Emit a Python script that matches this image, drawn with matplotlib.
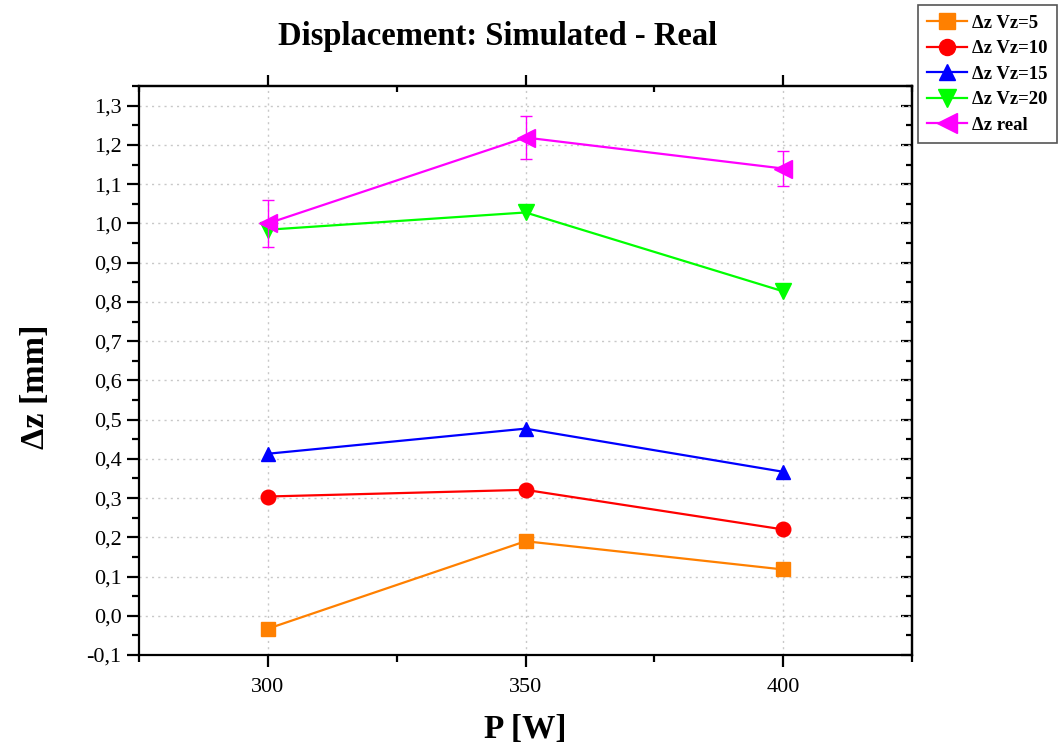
import matplotlib
matplotlib.use("Agg")
import matplotlib.pyplot as plt
from matplotlib.ticker import MultipleLocator, FuncFormatter, NullFormatter
import numpy as np

# data
power = [300, 350, 400]
dz_vz5 = [-0.033, 0.190, 0.118]
dz_vz10 = [0.304, 0.321, 0.220]
dz_vz15 = [0.413, 0.477, 0.367]
dz_vz20 = [0.984, 1.028, 0.827]
dz_real = [1.000, 1.219, 1.140]
dz_real_err = [0.060, 0.055, 0.045]

series_labels = ["\u0394z Vz=5", "\u0394z Vz=10", "\u0394z Vz=15", "\u0394z Vz=20", "\u0394z real"]

plt.rcParams['font.family'] = ['Liberation Serif', 'DejaVu Serif']

fig = plt.figure(figsize=(10.58, 7.49), dpi=100)
ax = fig.add_axes([0.1314, 0.1255, 0.7306, 0.7595])

ax.plot(power, dz_vz5, color='#FF8000', marker='s', markersize=10, lw=1.6,
        label=series_labels[0], zorder=3)
ax.plot(power, dz_vz10, color='#FF0000', marker='o', markersize=10.5, lw=1.6,
        label=series_labels[1], zorder=3)
ax.plot(power, dz_vz15, color='#0000FF', marker='^', markersize=10.5, lw=1.6,
        label=series_labels[2], zorder=3)
ax.plot(power, dz_vz20, color='#00FF00', marker='v', markersize=11.5, lw=1.6,
        label=series_labels[3], zorder=3)
# error bars without a legend entry, the line carries the label
ax.errorbar(power, dz_real, yerr=dz_real_err, fmt='none', ecolor='#FF00FF',
            elinewidth=1.0, capsize=4.5, capthick=1.0, zorder=4)
ax.plot(power, dz_real, color='#FF00FF', marker='<', markersize=12.5, lw=1.6,
        label=series_labels[4], zorder=4)

ax.set_xlim(275, 425)
ax.set_ylim(-0.1, 1.35)

ax.xaxis.set_major_locator(MultipleLocator(50))
ax.xaxis.set_minor_locator(MultipleLocator(25))
ax.yaxis.set_major_locator(MultipleLocator(0.1))
ax.yaxis.set_minor_locator(MultipleLocator(0.05))
ax.yaxis.set_major_formatter(FuncFormatter(lambda v, p: ('%.1f' % v).replace('.', ',').replace('-0,0', '0,0')))

ax.tick_params(which='both', direction='out', width=1.6, labelsize=16)
ax.tick_params(which='major', length=8.5)
ax.tick_params(which='minor', length=5)
ax.tick_params(axis='x', pad=8)
ax.tick_params(axis='y', pad=4)
for s in ax.spines.values():
    s.set_linewidth(1.6)

# top axis: major ticks out, minor ticks in
top = ax.secondary_xaxis('top')
top.xaxis.set_major_locator(MultipleLocator(50))
top.xaxis.set_minor_locator(MultipleLocator(25))
top.xaxis.set_major_formatter(NullFormatter())
top.tick_params(which='major', direction='out', length=8, width=1.6)
top.tick_params(which='minor', direction='in', length=4, width=1.6)
top.spines['top'].set_linewidth(1.6)

# right axis: ticks pointing inward
right = ax.secondary_yaxis('right')
right.yaxis.set_major_locator(MultipleLocator(0.1))
right.yaxis.set_minor_locator(MultipleLocator(0.05))
right.yaxis.set_major_formatter(NullFormatter())
right.tick_params(which='major', direction='in', length=8, width=1.6)
right.tick_params(which='minor', direction='in', length=4, width=1.6)
right.spines['right'].set_linewidth(1.6)

ax.grid(True, which='major', color='#c8c8c8', linestyle=(0, (1.5, 3)), lw=1.0)
ax.set_axisbelow(True)

fig.text(498 / 1058, 1 - 36 / 749, "Displacement: Simulated - Real",
         ha='center', va='center', fontsize=23.5, fontweight='bold')
fig.text(35 / 1058, 1 - 387 / 749, "\u0394z [mm]", rotation=90,
         ha='center', va='center', fontsize=24.5, fontweight='bold')
fig.text(525 / 1058, 1 - 730 / 749, "P [W]",
         ha='center', va='center', fontsize=24, fontweight='bold')

leg = ax.legend(loc='upper left', bbox_to_anchor=(918 / 1058, 1 - 5 / 749),
                bbox_transform=fig.transFigure, fancybox=False, framealpha=1,
                edgecolor='#555555', prop={'weight': 'bold', 'size': 13.5},
                handlelength=2.1, handletextpad=0.3, labelspacing=0.45,
                borderpad=0.5, borderaxespad=0, numpoints=1, markerscale=1.1)
leg.get_frame().set_linewidth(1.2)

fig.savefig("out.png", dpi=100)
